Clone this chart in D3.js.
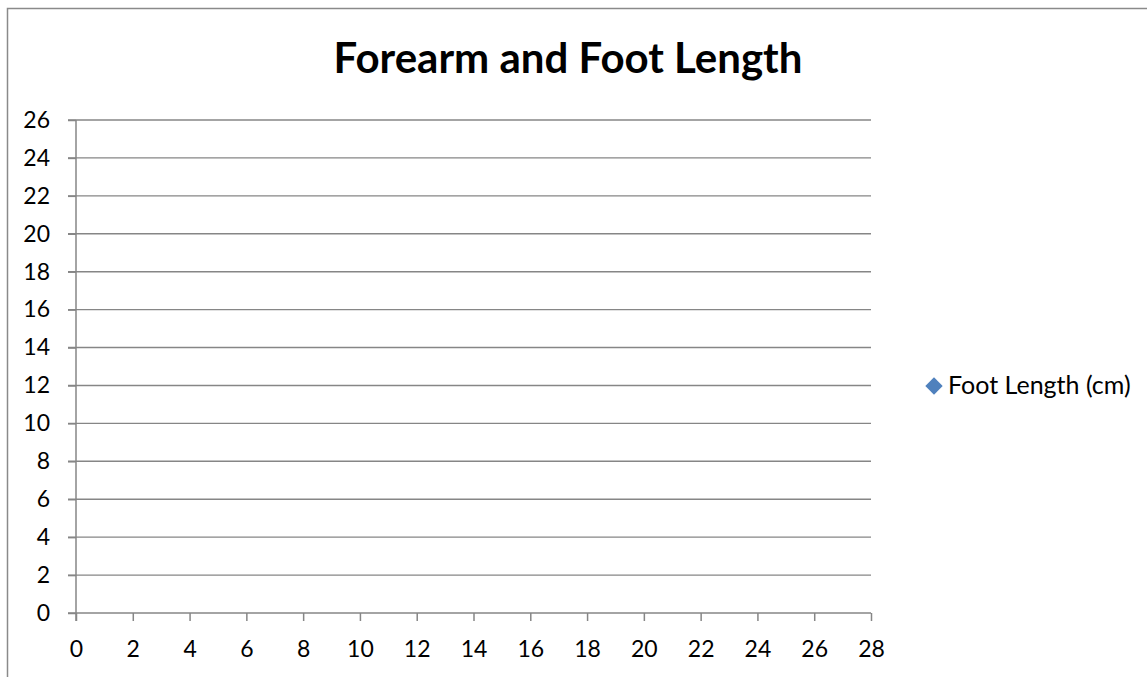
<!DOCTYPE html>
<html>
<head>
<meta charset="utf-8">
<script src="https://cdn.jsdelivr.net/npm/d3@7"></script>
<style>
  html, body { margin: 0; padding: 0; background: #fff; }
  svg { display: block; }
  text { font-family: Lato, "Open Sans", sans-serif; fill: #000; }
</style>
</head>
<body>
<svg id="chart" width="1147" height="677"></svg>
<script>
// ---- data ----
const chartTitle = "Forearm and Foot Length";
const seriesName = "Foot Length (cm)";
const forearmLength = [];   // x values (no points visible in the reference)
const footLength = [];      // y values
const xTicks = [0, 2, 4, 6, 8, 10, 12, 14, 16, 18, 20, 22, 24, 26, 28];
const yTicks = [0, 2, 4, 6, 8, 10, 12, 14, 16, 18, 20, 22, 24, 26];

// ---- layout ----
const W = 1147, H = 677;
const plot = { left: 76, right: 871, top: 120, bottom: 613 };
const gridColor = "#868686";
const seriesColor = "#4F81BD";

const svg = d3.select("#chart");

// outer border (only top and left visible in the frame)
svg.append("path")
  .attr("d", `M7.5,${H} L7.5,8.5 L${W},8.5`)
  .attr("fill", "none").attr("stroke", "#8a8a8a").attr("stroke-width", 1.5);

const x = d3.scaleLinear().domain([0, 28]).range([plot.left, plot.right]);
const y = d3.scaleLinear().domain([0, 26]).range([plot.bottom, plot.top]);

// horizontal gridlines
svg.append("g").selectAll("line").data(yTicks.filter(d => d !== 0)).join("line")
  .attr("x1", plot.left - 8).attr("x2", plot.right)
  .attr("y1", d => y(d)).attr("y2", d => y(d))
  .attr("stroke", gridColor).attr("stroke-width", 1.4);

// y axis
const yAxis = svg.append("g").attr("transform", `translate(${plot.left},0)`)
  .call(d3.axisLeft(y).tickValues(yTicks).tickSize(8).tickPadding(18).tickSizeOuter(0));
// x axis
const xAxis = svg.append("g").attr("transform", `translate(0,${plot.bottom})`)
  .call(d3.axisBottom(x).tickValues(xTicks).tickSize(8).tickPadding(20).tickSizeOuter(0));

[yAxis, xAxis].forEach(g => {
  g.select(".domain").attr("stroke", gridColor).attr("stroke-width", 1.5);
  g.selectAll(".tick line").attr("stroke", gridColor).attr("stroke-width", 1.5);
  g.selectAll(".tick text").attr("font-family", "Lato, sans-serif")
    .attr("font-size", 23).attr("fill", "#000");
});
// y axis line extends down to the tick length below the x axis
yAxis.select(".domain").attr("d", `M0,${plot.top}V${plot.bottom + 8}`);
xAxis.select(".domain").attr("d", `M${plot.left - 8},0H${plot.right}`);

// diamond marker path (square rotated 45deg)
const diamond = d3.symbol(d3.symbolSquare, 150);

// points (none in the reference)
svg.append("g").selectAll("path").data(forearmLength.map((v, i) => [v, footLength[i]])).join("path")
  .attr("d", diamond)
  .attr("transform", d => `translate(${x(d[0])},${y(d[1])}) rotate(45)`)
  .attr("fill", seriesColor);

// title
svg.append("text")
  .attr("x", 568).attr("y", 73)
  .attr("text-anchor", "middle")
  .attr("font-weight", "bold").attr("font-size", 42)
  .text(chartTitle);

// legend
const lg = svg.append("g").attr("transform", "translate(934,386)");
lg.append("path")
  .attr("d", diamond)
  .attr("transform", "rotate(45)")
  .attr("fill", seriesColor);
lg.append("text").attr("x", 14).attr("y", 8)
  .attr("font-size", 25)
  .text(seriesName);
</script>
</body>
</html>
